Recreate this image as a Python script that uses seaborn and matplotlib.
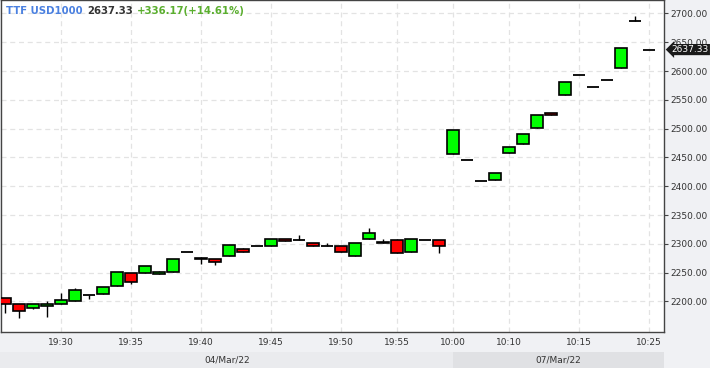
"""
Candlestick chart of TTF USD1000 intraday prices (04/Mar/22 - 07/Mar/22).
"""

import numpy as np
import pandas as pd
import seaborn as sns
import matplotlib.pyplot as plt

# Candle data, one entry per bar
OPENS = [2205.6, 2195.1, 2189.2, 2191.7, 2195.1, 2201.4, 2210.8, 2212.5, 2227.4, 2249.0,
         2249.0, 2247.2, 2250.7, 2285.4, 2273.3, 2273.3, 2278.5, 2290.6, 2296.3, 2295.8,
         2308.0, 2306.2, 2301.0, 2296.3, 2295.8, 2278.5, 2308.0, 2302.7, 2306.2, 2285.4,
         2306.2, 2306.2, 2455.5, 2445.1, 2409.2, 2410.4, 2457.3, 2472.9, 2500.7, 2526.7,
         2558.0, 2592.7, 2571.9, 2584.0, 2604.8, 2686.4, 2637.33]
CLOSES = [2195.1, 2183.0, 2195.1, 2195.7, 2202.1, 2219.4, 2210.8, 2224.6, 2250.7, 2233.3,
          2261.1, 2251.7, 2273.3, 2285.4, 2275.5, 2268.1, 2297.6, 2286.5, 2296.3, 2308.0,
          2304.5, 2306.2, 2295.8, 2296.3, 2285.4, 2301.0, 2318.4, 2301.0, 2283.7, 2308.0,
          2306.2, 2295.8, 2497.2, 2445.1, 2409.2, 2422.6, 2467.7, 2490.3, 2523.3, 2523.3,
          2580.5, 2592.7, 2571.9, 2584.0, 2639.6, 2686.4, 2637.33]
HIGHS = [2205.6, 2195.1, 2195.1, 2200.9, 2215.3, 2223.4, 2210.8, 2224.6, 2250.7, 2249.0,
         2261.1, 2252.9, 2273.3, 2285.4, 2277.3, 2273.3, 2297.6, 2292.9, 2296.3, 2308.0,
         2308.0, 2315.4, 2301.0, 2301.0, 2295.8, 2301.0, 2327.6, 2308.5, 2308.0, 2308.0,
         2306.2, 2306.2, 2497.2, 2445.1, 2409.2, 2422.6, 2467.7, 2490.3, 2523.3, 2526.7,
         2580.5, 2592.7, 2571.9, 2584.0, 2639.6, 2695.6, 2637.33]
LOWS = [2180.5, 2171.9, 2187.5, 2173.6, 2195.1, 2201.4, 2204.3, 2212.5, 2227.4, 2229.9,
        2249.0, 2247.2, 2250.7, 2285.4, 2264.6, 2263.9, 2278.5, 2286.5, 2296.3, 2295.8,
        2304.5, 2306.2, 2295.8, 2296.3, 2285.4, 2278.5, 2308.0, 2301.0, 2283.7, 2285.4,
        2306.2, 2283.7, 2455.5, 2445.1, 2409.2, 2410.4, 2457.3, 2472.9, 2500.7, 2523.3,
        2558.0, 2592.7, 2571.9, 2584.0, 2604.8, 2686.4, 2637.33]

# Time axis labels (bar index -> label)
TICK_POS = [4, 9, 14, 19, 24, 28, 32, 36, 41, 46]
TICK_LABELS = ['19:30', '19:35', '19:40', '19:45', '19:50', '19:55',
               '10:00', '10:10', '10:15', '10:25']
DAY_SPLIT = 32
DAY_LABELS = ['04/Mar/22', '07/Mar/22']

SYMBOL = 'TTF USD1000'
LAST = 2637.33
CHANGE = '+336.17(+14.61%)'

df = pd.DataFrame({'open': OPENS, 'close': CLOSES, 'high': HIGHS, 'low': LOWS})
df['idx'] = np.arange(len(df))
df['bottom'] = df[['open', 'close']].min(axis=1)
df['height'] = (df['close'] - df['open']).abs()
df['color'] = np.where(df['close'] >= df['open'], '#00ff00', '#ff0000')

sns.set_theme(style='white')
plt.rcParams['font.family'] = ['DejaVu Sans']

BG = '#f0f1f4'
fig = plt.figure(figsize=(7.1, 3.68), dpi=100, facecolor=BG)
ax = fig.add_axes([1 / 710, 36 / 368, 663 / 710, 332 / 368])
ax.set_facecolor('white')

XLIM = (-0.29, 47.07)
ax.set_xlim(*XLIM)
ax.set_ylim(2147, 2723.4)

# wicks
ax.vlines(df['idx'], df['low'], df['high'], color='black', lw=1, zorder=2)

# bodies
bodies = df[df['height'] > 0]
ax.bar(bodies['idx'], bodies['height'], bottom=bodies['bottom'], width=0.82,
       color=bodies['color'], edgecolor='black', linewidth=1.2, zorder=3)

# flat candles (open == close)
flat = df[df['height'] == 0]
ax.hlines(flat['close'], flat['idx'] - 0.41, flat['idx'] + 0.41,
          color='black', lw=1.3, zorder=3)

# axes styling
ax.yaxis.tick_right()
ax.set_yticks(np.arange(2200, 2701, 50))
ax.yaxis.set_major_formatter(plt.FormatStrFormatter('%.2f'))
ax.set_xticks(TICK_POS, TICK_LABELS)
ax.grid(True, ls=(0, (4, 3)), color='#e3e3e3', lw=0.9, zorder=0)
ax.tick_params(direction='out', length=3, width=0.8, color='#444',
               labelsize=6.5, labelcolor='#333', pad=1.5)
for sp in ax.spines.values():
    sp.set_color('#444')
    sp.set_linewidth(1)

# header
t1 = ax.text(0.0075, 0.967, SYMBOL, transform=ax.transAxes, color='#4a80e0',
             fontsize=7.3, weight='bold', va='center', ha='left')
t2 = ax.annotate(f'{LAST:.2f}', xy=(1, 0), xycoords=t1, xytext=(3, 0),
                 textcoords='offset points', va='bottom', ha='left',
                 color='#333333', fontsize=7.3, weight='bold')
ax.annotate(CHANGE, xy=(1, 0), xycoords=t2, xytext=(3, 0),
            textcoords='offset points', va='bottom', ha='left',
            color='#5aae2e', fontsize=7.3, weight='bold')

# last price marker on the right axis
ax.text(1.0115, LAST, f'{LAST:.2f}', transform=ax.get_yaxis_transform(),
        color='white', fontsize=6.5, va='center', ha='left', clip_on=False,
        bbox=dict(boxstyle='larrow,pad=0.12', fc='#1a1a1a', ec='none'), zorder=5)

# date band below the time axis
bax = fig.add_axes([0, 0, 664 / 710, 16 / 368])
bax.set_xlim(XLIM[0] - 1 / 14, XLIM[1])
bax.set_ylim(0, 1)
bax.axvspan(XLIM[0] - 1, DAY_SPLIT, color='#eaebee', lw=0)
bax.axvspan(DAY_SPLIT, XLIM[1], color='#e0e1e4', lw=0)
bax.text((XLIM[0] + DAY_SPLIT) / 2, 0.5, DAY_LABELS[0], ha='center', va='center',
         fontsize=6.5, color='#333')
bax.text((DAY_SPLIT + XLIM[1]) / 2, 0.5, DAY_LABELS[1], ha='center', va='center',
         fontsize=6.5, color='#333')
bax.axis('off')

fig.savefig('out.png', dpi=100, facecolor=BG)
